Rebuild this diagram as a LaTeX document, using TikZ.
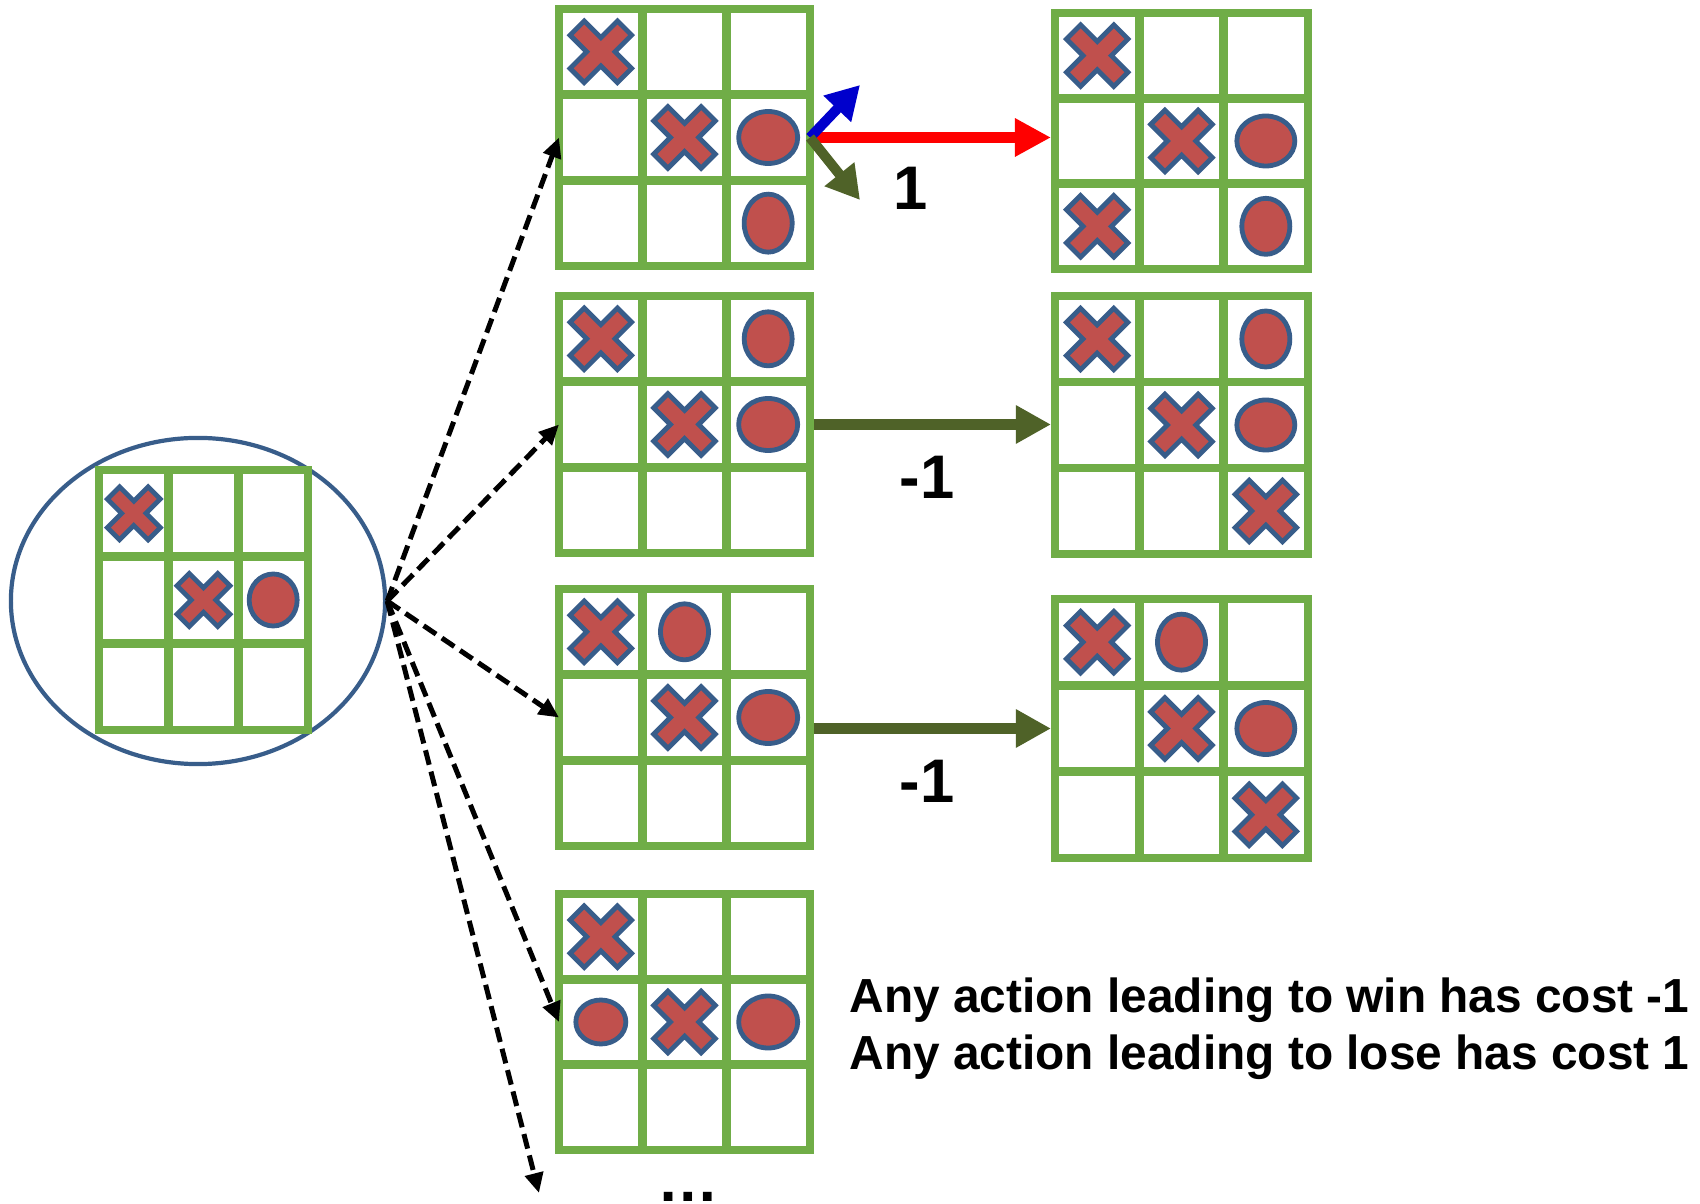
\documentclass[tikz,border=0pt]{standalone}
\usepackage{fontspec}
\setmainfont{Liberation Sans}
\usetikzlibrary{arrows.meta,shapes.geometric,calc}

\definecolor{boardgreen}{HTML}{70AD47}
\definecolor{piecered}{HTML}{C0504D}
\definecolor{pieceblue}{HTML}{385D8A}
\definecolor{movegreen}{HTML}{4F6228}
\definecolor{moveblue}{HTML}{0000CC}

% A 3x3 board: name, then left, top, right, bottom of its outer line centres.
% It also sets the current board for \Xat and \Oat.
\newcommand\board[5]{%
  \pgfmathsetmacro\bwd{(#4-#2)*0.01}%
  \pgfmathsetmacro\bht{(#5-#3)*0.01}%
  \node[boardnode, minimum width=\bwd cm, minimum height=\bht cm] (#1) at ({(#2+#4)/2},{(#3+#5)/2}) {};
  \draw[gridline] (#2,#3) rectangle (#4,#5);
  \foreach \k in {1,2}{
    \draw[gridline] ({#2+\k*(#4-#2)/3},#3) -- ({#2+\k*(#4-#2)/3},#5);
    \draw[gridline] (#2,{#3+\k*(#5-#3)/3}) -- (#4,{#3+\k*(#5-#3)/3});
  }%
  \def\bx{#2}\def\by{#3}%
  \pgfmathsetmacro\bw{(#4-#2)/3}%
  \pgfmathsetmacro\bh{(#5-#3)/3}%
}

% A cross in cell (row, col) of the current board; optional size factor.
\newcommand\Xat[3][1]{%
  \pgfmathsetmacro\cx{\bx+(#3+0.5)*\bw}%
  \pgfmathsetmacro\cy{\by+(#2+0.5)*\bh}%
  \draw[xpiece, shift={(\cx,\cy)}, rotate=45, scale=#1]
    (10,33.5) -- (10,10) -- (33.5,10) -- (33.5,-10) -- (10,-10) -- (10,-33.5) -- (-10,-33.5)
    -- (-10,-10) -- (-33.5,-10) -- (-33.5,10) -- (-10,10) -- (-10,33.5) -- cycle;
}

% A nought in cell (row, col): horizontal and vertical radius.
\newcommand\Oat[4]{%
  \pgfmathsetmacro\cx{\bx+(#2+0.5)*\bw}%
  \pgfmathsetmacro\cy{\by+(#1+0.5)*\bh}%
  \pgfmathsetmacro\orx{#3*0.01}%
  \pgfmathsetmacro\ory{#4*0.01}%
  \draw[opiece] (\cx,\cy) ellipse [x radius=\orx cm, y radius=\ory cm];
}

\begin{document}
\begin{tikzpicture}[x=0.01cm, y=-0.01cm,
  boardnode/.style={inner sep=0pt, outer sep=0pt},
  gridline/.style={draw=boardgreen, line width=0.085cm},
  xpiece/.style={fill=piecered, draw=pieceblue, line width=0.048cm, line join=miter},
  opiece/.style={fill=piecered, draw=pieceblue, line width=0.048cm},
  rootnode/.style={ellipse, draw=pieceblue, line width=0.042cm, inner sep=0pt,
    minimum width=3.74cm, minimum height=3.26cm},
  dasharrow/.style={draw=black, line width=0.05cm, dash pattern=on 0.15cm off 0.07cm,
    -{Triangle[length=0.2cm, width=0.18cm]}},
  redarrow/.style={draw=red, line width=0.11cm,
    -{Triangle[length=0.36cm, width=0.36cm]}, shorten <=0.04cm, shorten >=0.04cm},
  bluearrow/.style={draw=moveblue, line width=0.10cm,
    -{Triangle[length=0.33cm, width=0.36cm]}},
  olivearrow/.style={draw=movegreen, line width=0.10cm,
    -{Triangle[length=0.33cm, width=0.36cm]}},
  greenarrow/.style={draw=movegreen, line width=0.11cm,
    -{Triangle[length=0.35cm, width=0.36cm]}, shorten <=0.04cm, shorten >=0.04cm},
  costlabel/.style={font=\fontsize{17.5pt}{20pt}\selectfont\bfseries, inner sep=0pt},
  notetext/.style={font=\fontsize{13.6pt}{16pt}\selectfont\bfseries, inner sep=0pt, anchor=base west}
]
\useasboundingbox (0,0) rectangle (1700,1204);
\fill[white] (0,0) rectangle (1700,1204);

% current position
\node[rootnode] (root) at (198,601) {};
\board{b0}{99}{470}{308}{730}
\Xat[0.86]{0}{0}
\Xat[0.86]{1}{1}
\Oat{1}{2}{24}{26}

% possible next moves
\board{A1}{559}{9}{810}{266}
\Xat{0}{0} \Xat{1}{1} \Oat{1}{2}{29.5}{26} \Oat{2}{2}{24}{29}

\board{B1}{559}{296}{810}{553}
\Xat{0}{0} \Oat{0}{2}{24}{27} \Xat{1}{1} \Oat{1}{2}{29.5}{26}

\board{C1}{559}{589}{810}{846}
\Xat{0}{0} \Oat{0}{1}{24}{28} \Xat{1}{1} \Oat{1}{2}{29.5}{26}

\board{D1}{559}{894}{810}{1150}
\Xat{0}{0} \Oat{1}{0}{25}{22} \Xat{1}{1} \Oat{1}{2}{29.5}{26}

% resulting positions
\board{A3}{1055}{13}{1308}{269}
\Xat{0}{0} \Xat{1}{1} \Oat{1}{2}{29}{25} \Xat{2}{0} \Oat{2}{2}{24}{28}

\board{B3}{1055}{296}{1308}{554}
\Xat{0}{0} \Oat{0}{2}{24}{28} \Xat{1}{1} \Oat{1}{2}{29}{25} \Xat{2}{2}

\board{C3}{1055}{599}{1308}{858}
\Xat{0}{0} \Oat{0}{1}{24}{28} \Xat{1}{1} \Oat{1}{2}{29}{26} \Xat{2}{2}

% branching from the current position
\coordinate (more) at (539,1193);
\draw[dasharrow] (root.east) -- (A1.west);
\draw[dasharrow] (root.east) -- (B1.west);
\draw[dasharrow] (root.east) -- (C1.west);
\draw[dasharrow] (root.east) -- (D1.west);
\draw[dasharrow] (root.east) -- (more);

% transitions and their costs
\coordinate (up) at (860,85);
\coordinate (down) at (860,200);
\draw[redarrow] (A1.east) -- (A1.east -| A3.west);
\draw[bluearrow] (A1.east) -- (up);
\draw[olivearrow] (A1.east) -- (down);
\draw[greenarrow] (B1.east) -- (B1.east -| B3.west);
\draw[greenarrow] (C1.east |- C3.west) -- (C3.west);

\node[costlabel] (cost1) at (911,188) {1};
\node[costlabel] (cost2) at (927,477) {-1};
\node[costlabel] (cost3) at (927,781) {-1};
\node[costlabel, anchor=base] (dots) at (688,1201) {…};

\node[notetext] (win) at (849,1012) {Any action leading to win has cost -1};
\node[notetext] (lose) at (849,1069) {Any action leading to lose has cost 1};
\end{tikzpicture}
\end{document}
